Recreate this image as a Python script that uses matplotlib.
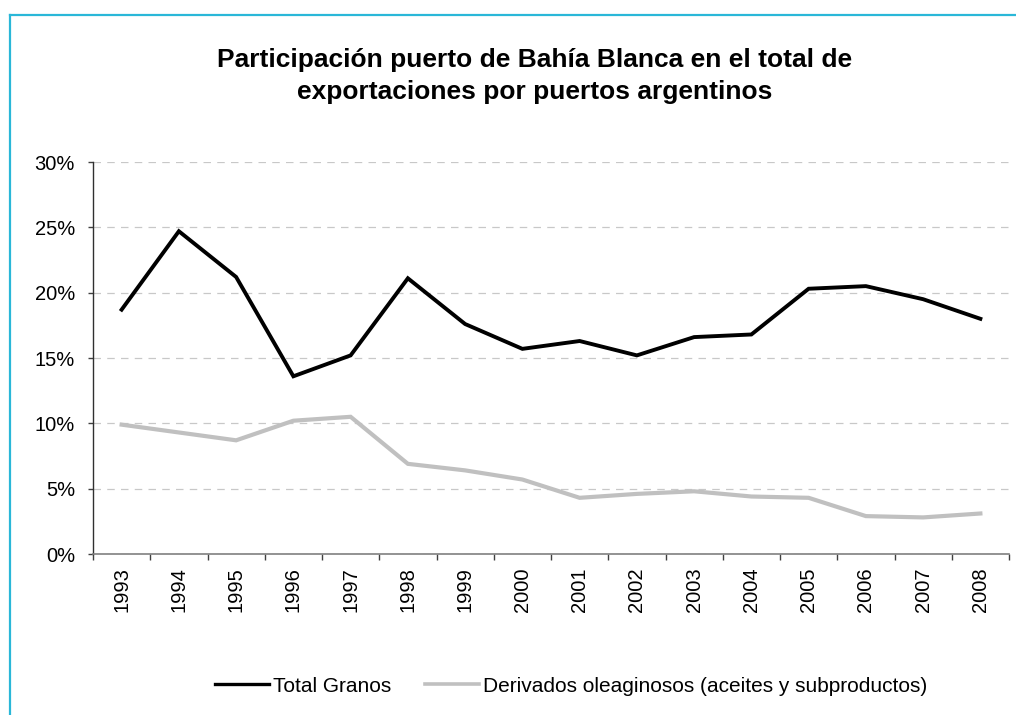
import matplotlib
matplotlib.use("Agg")
import matplotlib.pyplot as plt
from matplotlib.lines import Line2D
from matplotlib.ticker import FixedLocator, PercentFormatter

years = ["1993", "1994", "1995", "1996", "1997", "1998", "1999", "2000",
         "2001", "2002", "2003", "2004", "2005", "2006", "2007", "2008"]
total_granos = [18.7, 24.7, 21.2, 13.6, 15.2, 21.1, 17.6, 15.7,
                16.3, 15.2, 16.6, 16.8, 20.3, 20.5, 19.5, 18.0]
derivados = [9.9, 9.3, 8.7, 10.2, 10.5, 6.9, 6.4, 5.7,
             4.3, 4.6, 4.8, 4.4, 4.3, 2.9, 2.8, 3.1]
yticks = [0, 5, 10, 15, 20, 25, 30]

title = "Participación puerto de Bahía Blanca en el total de\nexportaciones por puertos argentinos"
label_a = "Total Granos"
label_b = "Derivados oleaginosos (aceites y subproductos)"

plt.rcParams['font.family'] = ['Liberation Sans', 'DejaVu Sans']

W, H = 1016, 715
fig = plt.figure(figsize=(W / 100, H / 100), dpi=100)
fig.patch.set_facecolor("white")

ax = fig.add_axes([93 / W, 1 - 554 / H, (1009 - 93) / W, (554 - 162) / H])

x = list(range(len(years)))
ax.plot(x, total_granos, color="black", lw=2.8, solid_joinstyle="miter", zorder=3)
ax.plot(x, derivados, color="#c0c0c0", lw=3.0, solid_joinstyle="miter", zorder=3)

ax.set_xlim(-0.5, len(years) - 0.5)
ax.set_ylim(0, 30)
ax.set_yticks(yticks)
ax.yaxis.set_major_formatter(PercentFormatter(decimals=0))
ax.yaxis.grid(True, linestyle=(0, (6, 5)), color="#c8c8c8", lw=0.9)
ax.set_axisbelow(True)

ax.set_xticks(x)
ax.set_xticklabels(years, rotation=90)
ax.xaxis.set_minor_locator(FixedLocator([i - 0.5 for i in range(len(years) + 1)]))
ax.tick_params(axis="x", which="major", length=0, pad=9.4, labelsize=14.5)
ax.tick_params(axis="x", which="minor", length=4, width=1, color="#404040")
ax.tick_params(axis="y", length=3.6, width=1, labelsize=14.5, pad=9.4, color="#404040")

for s in ["top", "right"]:
    ax.spines[s].set_visible(False)
ax.spines["left"].set_color("#303030")
ax.spines["left"].set_linewidth(1)
ax.spines["bottom"].set_color("#808080")
ax.spines["bottom"].set_linewidth(1.2)

fig.text(535 / W, 1 - 76 / H, title, ha="center", va="center", fontsize=19,
         fontweight="bold", linespacing=1.45)

handles = [Line2D([], [], color="black", lw=2.4),
           Line2D([], [], color="#c0c0c0", lw=2.6)]
fig.legend(handles, [label_a, label_b], loc="center", ncol=2,
           bbox_to_anchor=(571 / W, 1 - 686 / H), frameon=False, fontsize=15,
           handlelength=2.6, handletextpad=0.2, columnspacing=1.6)

# cyan frame border (top and left visible)
fig.add_artist(Line2D([9.5 / W, 1.0], [1 - 14.5 / H, 1 - 14.5 / H],
                      transform=fig.transFigure, color="#2ab7d8", lw=1.6))
fig.add_artist(Line2D([9.5 / W, 9.5 / W], [0, 1 - 14.5 / H],
                      transform=fig.transFigure, color="#2ab7d8", lw=1.6))

fig.savefig("out.png", dpi=100)
